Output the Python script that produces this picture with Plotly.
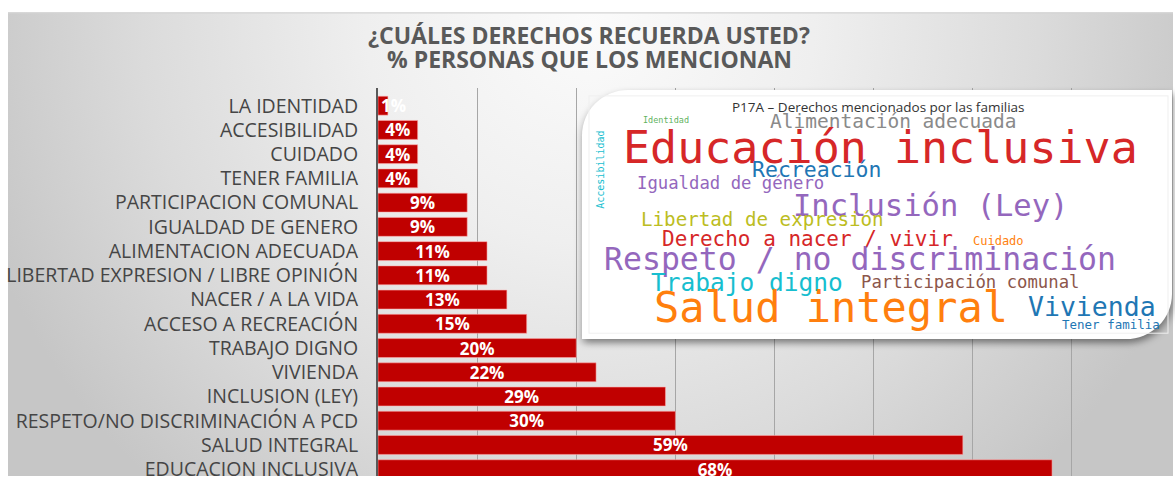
import base64
import plotly.graph_objects as go

# ---------------- data ----------------
categories = [
    "LA IDENTIDAD", "ACCESIBILIDAD", "CUIDADO", "TENER FAMILIA",
    "PARTICIPACION COMUNAL", "IGUALDAD DE GENERO", "ALIMENTACION ADECUADA",
    "LIBERTAD EXPRESION / LIBRE OPINIÓN", "NACER / A LA VIDA", "ACCESO A RECREACIÓN",
    "TRABAJO DIGNO", "VIVIENDA", "INCLUSION (LEY)", "RESPETO/NO DISCRIMINACIÓN A PCD",
    "SALUD INTEGRAL", "EDUCACION INCLUSIVA",
]
values = [1, 4, 4, 4, 9, 9, 11, 11, 13, 15, 20, 22, 29, 30, 59, 68]

title_lines = ["¿CUÁLES DERECHOS RECUERDA USTED?", "% PERSONAS QUE LOS MENCIONAN"]
cloud_title = "P17A – Derechos mencionados por las familias"

wc_words = [
    "Identidad", "Alimentación adecuada", "Educación inclusiva", "Accesibilidad",
    "Recreación", "Igualdad de género", "Inclusión (Ley)", "Libertad de expresión",
    "Derecho a nacer / vivir", "Cuidado", "Respeto / no discriminación",
    "Trabajo digno", "Participación comunal", "Salud integral", "Vivienda",
    "Tener familia",
]

# ---------------- layout / style (pixels) ----------------
W, H = 1175, 482
ML, MR, MT, MB = 378, 4, 88, 0
PW, PH = W - ML - MR, H - MT - MB


def px2x(px):
    return (px - ML) / PW


def py2y(py):
    return (H - MB - py) / PH


wc_colors = ["#5fb35f", "#8a8a8a", "#d62728", "#17becf", "#1f77b4", "#9467bd",
             "#9467bd", "#bcbd22", "#d62728", "#ff7f0e", "#9467bd", "#17becf",
             "#8c564b", "#ff7f0e", "#1f77b4", "#1f77b4"]
wc_sizes = [8.5, 19.5, 45, 10, 21.5, 17.3, 30.5, 19.2, 21, 12, 31.5, 24.5, 17.3, 42, 26.5, 12.5]
wc_pos = [(666, 121), (893, 122), (880, 148), (601, 171), (816, 171), (730, 184),
          (930, 207), (762, 222), (807, 241), (998, 243), (860, 262), (747, 285),
          (970, 285), (831, 311), (1092, 310), (1111, 328)]
wc_angle = [0, 0, 0, -90, 0, 0, 0, 0, 0, 0, 0, 0, 0, 0, 0, 0]

# background gradient (svg image)
BGX0, BGY0, BGX1, BGY1 = 8, 11, 1173, 482
bw, bh = BGX1 - BGX0, BGY1 - BGY0
bg_svg = f'''<svg xmlns="http://www.w3.org/2000/svg" width="{bw}" height="{bh}" viewBox="0 0 {bw} {bh}" preserveAspectRatio="none">
<defs><radialGradient id="g" gradientUnits="userSpaceOnUse" cx="{590-BGX0}" cy="10" r="640">
<stop offset="0" stop-color="#fbfbfb"/><stop offset="0.35" stop-color="#efefef"/>
<stop offset="0.7" stop-color="#dbdbdb"/><stop offset="1" stop-color="#c6c6c6"/></radialGradient></defs>
<rect x="0" y="0" width="{bw}" height="{bh}" fill="url(#g)"/>
<line x1="0" y1="0.5" x2="{bw}" y2="0.5" stroke="#d4d4d4" stroke-width="1.5"/>
</svg>'''

# word-cloud box (svg image)
BX0, BY0, BX1, BY1 = 570, 80, 1175, 362
cw, ch = BX1 - BX0, BY1 - BY0
l, t, r, b, rad = 582 - BX0, 90 - BY0, 1172 - BX0, 343 - BY0, 46
path = f"M{l},{t+rad} A{rad},{rad} 0 0 1 {l+rad},{t} H{r} V{b-rad} A{rad},{rad} 0 0 1 {r-rad},{b} H{l} Z"
box_svg = f'''<svg xmlns="http://www.w3.org/2000/svg" width="{cw}" height="{ch}" viewBox="0 0 {cw} {ch}">
<defs><filter id="s" x="-10%" y="-10%" width="120%" height="130%"><feGaussianBlur stdDeviation="4"/></filter></defs>
<path d="{path}" transform="translate(1 4)" fill="#000" fill-opacity="0.45" filter="url(#s)"/>
<path d="{path}" fill="#ffffff"/>
<rect x="{l+7}" y="{t+6}" width="{r-l-11}" height="{b-t-12}" fill="none" stroke="#efefef" stroke-width="1"/>
</svg>'''


def uri(svg):
    return "data:image/svg+xml;base64," + base64.b64encode(svg.encode("utf-8")).decode()


bar_style = dict(
    orientation="h",
    marker=dict(color="#c00000", line=dict(color="rgba(255,170,170,0.7)", width=0.8)),
    textposition="inside", textangle=0, constraintext="none", cliponaxis=False,
    textfont=dict(family="Open Sans", size=17, color="white", weight="bold"),
    width=0.78, hoverinfo="skip",
)

fig = go.Figure()
# bars whose label fits inside: centred label
fig.add_trace(go.Bar(
    y=categories[1:], x=values[1:], text=[f"{v}%" for v in values[1:]],
    insidetextanchor="middle", **bar_style))
# the tiny first bar: label starts at the bar start and overflows it
fig.add_trace(go.Bar(
    y=categories[:1], x=values[:1], text=[f"{v}%" for v in values[:1]],
    insidetextanchor="start", **bar_style))

annotations = []
for i, line in enumerate(title_lines):
    annotations.append(dict(
        text=f"<b>{line}</b>", x=px2x(589), y=py2y(34 + 25 * i), xref="paper", yref="paper",
        xanchor="center", yanchor="middle", showarrow=False,
        font=dict(family="Open Sans", size=23, color="#595959")))
annotations.append(dict(
    text=cloud_title, x=px2x(878), y=py2y(107), xref="paper", yref="paper",
    xanchor="center", yanchor="middle", showarrow=False,
    font=dict(family="Open Sans", size=13.5, color="#333333")))
for w, c, s, (cx, cy), a in zip(wc_words, wc_colors, wc_sizes, wc_pos, wc_angle):
    annotations.append(dict(
        text=w, x=px2x(cx), y=py2y(cy), xref="paper", yref="paper",
        xanchor="center", yanchor="middle", showarrow=False, textangle=a,
        font=dict(family="DejaVu Sans Mono", size=s, color=c)))

fig.update_layout(
    width=W, height=H,
    margin=dict(l=ML, r=MR, t=MT, b=MB, pad=0),
    paper_bgcolor="white", plot_bgcolor="rgba(0,0,0,0)",
    showlegend=False, barmode="overlay",
    xaxis=dict(range=[0, 80], dtick=10, showgrid=True, gridcolor="#a6a6a6", gridwidth=1,
               showticklabels=False, zeroline=False, showline=False, fixedrange=True),
    yaxis=dict(categoryorder="array", categoryarray=categories,
               range=[15.28, -0.73], showgrid=False, zeroline=False,
               showline=True, linecolor="#595959", linewidth=2,
               ticks="", ticklabelstandoff=14,
               tickfont=dict(family="Open Sans", size=19.5, color="#454545")),
    annotations=annotations,
    images=[
        dict(source=uri(bg_svg), xref="paper", yref="paper", x=px2x(BGX0), y=py2y(BGY0),
             sizex=bw / PW, sizey=bh / PH, xanchor="left", yanchor="top",
             sizing="stretch", layer="below"),
        dict(source=uri(box_svg), xref="paper", yref="paper", x=px2x(BX0), y=py2y(BY0),
             sizex=cw / PW, sizey=ch / PH, xanchor="left", yanchor="top",
             sizing="stretch", layer="above"),
    ],
)

fig.write_html("out.html", config={"displayModeBar": False},
               post_script="document.body.style.margin='0px';")
